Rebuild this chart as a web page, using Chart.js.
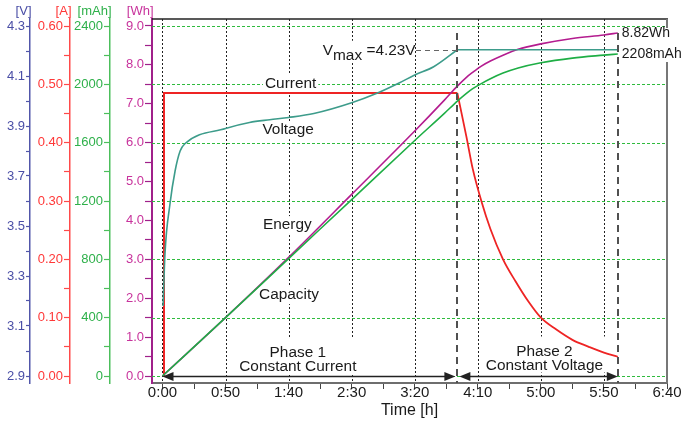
<!DOCTYPE html>
<html>
<head>
<meta charset="utf-8">
<title>Charging curve</title>
<script src="https://cdn.jsdelivr.net/npm/chart.js@4.4.1/dist/chart.umd.min.js"></script>
<style>
  html, body { margin: 0; padding: 0; background: #fff; }
  canvas { display: block; }
</style>
</head>
<body>
<canvas id="chargeChart" width="687" height="421"></canvas>
<script>
// Li-ion charging curve: constant current phase, then constant voltage phase.
// Times are in minutes on a linear x axis, labelled as h:mm.

// Current [A]
const ccCurrentTime = [1.2, 1.2, 233.8];
const ccCurrent = [0, 0.485, 0.485];
const cvCurrentTime = [233.8, 241, 246, 252.8, 260, 270, 280, 290, 300, 312, 325, 338, 350, 361];
const cvCurrent = [0.485, 0.41, 0.355, 0.30, 0.252, 0.20, 0.162, 0.128, 0.10, 0.08, 0.062, 0.05, 0.04, 0.033];

// Voltage [V]
const ccVoltageTime = [0.5, 2, 6, 10, 14, 18, 50, 69, 85, 100, 120, 150, 170, 188, 200, 215, 233.8];
const ccVoltage = [3.18, 3.39, 3.59, 3.72, 3.80, 3.83, 3.89, 3.914, 3.925, 3.934, 3.95, 3.993, 4.031, 4.073, 4.104, 4.137, 4.205];
const cvVoltageTime = [233.8, 361];
const cvVoltage = [4.205, 4.205];

// Energy [Wh] and capacity [mAh]
const energyTime = [0, 50, 100, 150, 200, 223.5, 233.8, 241, 246, 252.8, 260, 270, 282, 300, 325, 350, 361];
const energy = [0, 1.5, 3.05, 4.67, 6.3, 7.095, 7.455, 7.68, 7.81, 7.97, 8.10, 8.25, 8.40, 8.54, 8.68, 8.77, 8.82];
const capacityTime = [0, 50, 100, 150, 200, 223.5, 233.8, 241, 246, 252.8, 260, 270, 282, 300, 325, 350, 361];
const capacity = [0, 400, 805, 1210, 1615, 1801, 1885, 1938, 1970, 2005, 2038, 2077, 2112, 2148, 2180, 2200, 2208];

// phase boundaries (minutes) and the CV level
const phaseEnds = [233.8, 361];
const vmaxVolts = 4.205;

// axis ticks (labelled values; an unlabelled tick sits halfway between)
const xTickMinutes = [0, 50, 100, 150, 200, 250, 300, 350, 400];
const xTickLabels = ['0:00', '0:50', '1:40', '2:30', '3:20', '4:10', '5:00', '5:50', '6:40'];
const voltLabels = [2.9, 3.1, 3.3, 3.5, 3.7, 3.9, 4.1, 4.3];
const ampLabels = [0, 0.1, 0.2, 0.3, 0.4, 0.5, 0.6];
const mahLabels = [0, 400, 800, 1200, 1600, 2000, 2400];
const whLabels = [0, 1, 2, 3, 4, 5, 6, 7, 8, 9];

const FONT = '"Liberation Sans", Arial, Helvetica, sans-serif';
Chart.defaults.font.family = FONT;

const RED = '#ee2424';
const TEAL = '#3d9c8b';
const PURPLE = '#b41c8f';
const GREEN = '#1eae45';
const GRID_GREEN = '#2fbb3e';
const INK = '#1a1a1a';
const NOTE_FONT = '15.4px ' + FONT;

function withMinor(labels) {
  const out = [];
  labels.forEach((v, i) => {
    out.push(v);
    if (i < labels.length - 1) out.push((v + labels[i + 1]) / 2);
  });
  return out;
}

function pts(ts, vs) {
  return ts.map((t, i) => ({ x: t, y: vs[i] }));
}

function leftAxis(o) {
  return {
    type: 'linear', position: 'left', weight: o.weight,
    min: o.min, max: o.max, bounds: 'data',
    afterBuildTicks: s => { s.ticks = withMinor(o.labels).map(v => ({ value: v })); },
    afterFit: s => { s.width = o.width; },
    grid: { drawOnChartArea: false, color: o.line, tickLength: o.tick, tickWidth: 1.2 },
    border: { color: o.line, width: o.borderWidth || 1.5 },
    ticks: {
      color: o.color, padding: 1, autoSkip: false, font: { size: 13 },
      callback: v => o.labels.includes(v) ? o.fmt(v) : ''
    },
    title: { display: false }
  };
}

// text notes, placed in time / Wh units
const curveNotes = [
  { text: 'Current', t: 101.6, wh: 7.51 },
  { text: 'Voltage', t: 99.6, wh: 6.32 },
  { text: 'Energy', t: 99.0, wh: 3.88 },
  { text: 'Capacity', t: 100.3, wh: 2.08 }
];
const phaseNotes = [
  { lines: ['Phase 1', 'Constant Current'], t: 107.3, wh: [0.61, 0.25] },
  { lines: ['Phase 2', 'Constant Voltage'], t: 302.8, wh: [0.63, 0.27] }
];
const axisTitles = [
  { id: 'yV', text: '[V]', color: '#4a4ea6' },
  { id: 'yA', text: '[A]', color: '#ff3838' },
  { id: 'yMah', text: '[mAh]', color: '#2eb04a' },
  { id: 'yWh', text: '[Wh]', color: '#c8339c' }
];

function strokeLine(ctx, x1, y1, x2, y2) {
  ctx.beginPath();
  ctx.moveTo(x1, y1);
  ctx.lineTo(x2, y2);
  ctx.stroke();
}

function arrowHead(ctx, x, y, dir) {
  ctx.beginPath();
  ctx.moveTo(x, y);
  ctx.lineTo(x - dir * 11, y - 4.5);
  ctx.lineTo(x - dir * 11, y + 4.5);
  ctx.closePath();
  ctx.fill();
}

const chargeOverlay = {
  id: 'chargeOverlay',
  beforeDatasetsDraw(chart) {
    const { ctx, chartArea: a, scales } = chart;
    const xs = scales.x, yw = scales.yWh, ym = scales.yMah;
    ctx.save();

    // green dotted grid at the capacity labels
    ctx.strokeStyle = GRID_GREEN;
    ctx.lineWidth = 1;
    ctx.setLineDash([3, 2]);
    mahLabels.forEach(v => {
      const y = Math.round(ym.getPixelForValue(v)) + 0.5;
      strokeLine(ctx, a.left, y, a.right, y);
    });

    // black dotted verticals at the labelled times
    ctx.strokeStyle = '#222';
    ctx.setLineDash([2, 2]);
    xTickMinutes.filter(t => t < xs.max).forEach(t => {
      const x = Math.round(xs.getPixelForValue(t)) + 0.5;
      strokeLine(ctx, x, a.top, x, a.bottom);
    });
    ctx.setLineDash([]);

    // frame: top and right
    ctx.strokeStyle = '#222';
    ctx.lineWidth = 1.5;
    strokeLine(ctx, a.left, a.top, a.right + 1, a.top);
    ctx.strokeStyle = '#777';
    ctx.lineWidth = 2;
    strokeLine(ctx, a.right, a.top, a.right, a.bottom);

    // white backgrounds behind the notes
    ctx.fillStyle = '#fff';
    ctx.font = NOTE_FONT;
    curveNotes.forEach(n => {
      const w = ctx.measureText(n.text).width;
      const x = xs.getPixelForValue(n.t), y = yw.getPixelForValue(n.wh);
      ctx.fillRect(x - w / 2 - 2, y - 9, w + 4, 18);
    });
    phaseNotes.forEach(n => {
      const w = Math.max(...n.lines.map(s => ctx.measureText(s).width));
      const x = xs.getPixelForValue(n.t);
      const y1 = yw.getPixelForValue(n.wh[0]), y2 = yw.getPixelForValue(n.wh[1]);
      ctx.fillRect(x - w / 2 - 3, y1 - 15, w + 6, y2 - y1 + 22);
    });
    const vy = scales.yV.getPixelForValue(vmaxVolts);
    ctx.fillRect(xs.getPixelForValue(126), vy - 9, 93, 22);

    ctx.font = '14px ' + FONT;
    const ex = xs.getPixelForValue(phaseEnds[1]) + 3;
    const eTop = yw.getPixelForValue(energy[energy.length - 1]) - 5;
    const eBot = ym.getPixelForValue(capacity[capacity.length - 1]) + 8;
    ctx.fillRect(ex, eTop, ctx.measureText('2208mAh').width + 6, eBot - eTop);
    ctx.restore();
  },

  afterDatasetsDraw(chart) {
    const { ctx, chartArea: a, scales } = chart;
    const xs = scales.x, yw = scales.yWh, ym = scales.yMah, yv = scales.yV;
    ctx.save();

    // dashed phase boundaries
    ctx.strokeStyle = '#505050';
    ctx.lineWidth = 2;
    ctx.setLineDash([7, 5]);
    const dTop = yw.getPixelForValue(energy[energy.length - 1]);
    phaseEnds.forEach(t => {
      const x = Math.round(xs.getPixelForValue(t));
      strokeLine(ctx, x, dTop, x, a.bottom);
    });

    // Vmax leader
    const vy = Math.round(yv.getPixelForValue(vmaxVolts)) + 0.5;
    ctx.strokeStyle = '#666';
    ctx.lineWidth = 1.2;
    ctx.setLineDash([5, 4]);
    strokeLine(ctx, xs.getPixelForValue(201), vy, xs.getPixelForValue(phaseEnds[0]), vy);
    ctx.setLineDash([]);

    // phase arrows along the zero line
    const ay = Math.round(yw.getPixelForValue(0)) + 0.5;
    const x0 = xs.getPixelForValue(0);
    const x1 = xs.getPixelForValue(phaseEnds[0]);
    const x2 = xs.getPixelForValue(phaseEnds[1]);
    ctx.strokeStyle = '#222';
    ctx.fillStyle = '#222';
    ctx.lineWidth = 1.5;
    strokeLine(ctx, x0 + 4, ay, x1 - 6, ay);
    strokeLine(ctx, x1 + 6, ay, x2 - 4, ay);
    arrowHead(ctx, x0, ay, -1);
    arrowHead(ctx, x1 - 2, ay, 1);
    arrowHead(ctx, x1 + 2, ay, -1);
    arrowHead(ctx, x2, ay, 1);

    // notes
    ctx.fillStyle = INK;
    ctx.font = NOTE_FONT;
    ctx.textAlign = 'center';
    ctx.textBaseline = 'middle';
    curveNotes.forEach(n => {
      ctx.fillText(n.text, xs.getPixelForValue(n.t), yw.getPixelForValue(n.wh));
    });
    phaseNotes.forEach(n => {
      n.lines.forEach((s, i) => ctx.fillText(s, xs.getPixelForValue(n.t), yw.getPixelForValue(n.wh[i])));
    });

    // Vmax label with subscript
    ctx.textAlign = 'left';
    let lx = xs.getPixelForValue(127.1);
    ctx.fillText('V', lx, vy);
    lx += ctx.measureText('V').width;
    ctx.fillText('max', lx, vy + 5);
    lx += ctx.measureText('max').width;
    ctx.fillText(' =4.23V', lx, vy);

    // end values
    ctx.font = '14px ' + FONT;
    const ex = xs.getPixelForValue(phaseEnds[1]) + 4;
    ctx.fillText('8.82Wh', ex, yw.getPixelForValue(energy[energy.length - 1]));
    ctx.fillText('2208mAh', ex, ym.getPixelForValue(capacity[capacity.length - 1]));

    // unit titles above the left axes
    ctx.font = '13px ' + FONT;
    ctx.textAlign = 'right';
    axisTitles.forEach(t => {
      ctx.fillStyle = t.color;
      ctx.fillText(t.text, scales[t.id].right + 1.5, 11);
    });
    ctx.restore();
  }
};

const lineBase = { pointRadius: 0, pointHoverRadius: 0, fill: false };

new Chart(document.getElementById('chargeChart'), {
  type: 'line',
  data: {
    datasets: [
      { ...lineBase, data: pts(ccVoltageTime, ccVoltage), yAxisID: 'yV', borderColor: TEAL, borderWidth: 1.6, cubicInterpolationMode: 'monotone' },
      { ...lineBase, data: pts(cvVoltageTime, cvVoltage), yAxisID: 'yV', borderColor: TEAL, borderWidth: 1.6, tension: 0 },
      { ...lineBase, data: pts(capacityTime, capacity), yAxisID: 'yMah', borderColor: GREEN, borderWidth: 1.6, cubicInterpolationMode: 'monotone' },
      { ...lineBase, data: pts(energyTime, energy), yAxisID: 'yWh', borderColor: PURPLE, borderWidth: 1.6, cubicInterpolationMode: 'monotone' },
      { ...lineBase, data: pts(ccCurrentTime, ccCurrent), yAxisID: 'yA', borderColor: RED, borderWidth: 2, tension: 0 },
      { ...lineBase, data: pts(cvCurrentTime, cvCurrent), yAxisID: 'yA', borderColor: RED, borderWidth: 1.8, cubicInterpolationMode: 'monotone' }
    ]
  },
  options: {
    responsive: false,
    animation: false,
    devicePixelRatio: 1,
    events: [],
    layout: { padding: { top: 19, right: 20, left: 0, bottom: 0 } },
    plugins: { legend: { display: false }, tooltip: { enabled: false } },
    scales: {
      x: {
        type: 'linear', position: 'bottom', min: -8.3, max: 400, bounds: 'data',
        afterBuildTicks: s => { s.ticks = withMinor(xTickMinutes).map(v => ({ value: v })); },
        afterFit: s => { s.height = 38; },
        grid: { drawOnChartArea: false, color: '#444', tickLength: 6, tickWidth: 1 },
        border: { color: '#6e6e6e', width: 2 },
        ticks: {
          color: INK, padding: -5, autoSkip: false, maxRotation: 0, minRotation: 0, font: { size: 15 },
          callback: v => { const i = xTickMinutes.indexOf(v); return i < 0 ? '' : xTickLabels[i]; }
        },
        title: { display: true, text: 'Time [h]', color: INK, font: { size: 16 }, padding: { top: 0, bottom: 1 } }
      },
      yV: leftAxis({ weight: 4, width: 30, min: 2.872, max: 4.328, labels: voltLabels, fmt: v => v.toFixed(1),
        color: '#4a4ea6', line: '#5156aa', tick: 4 }),
      yA: leftAxis({ weight: 3, width: 40, min: -0.012, max: 0.612, labels: ampLabels, fmt: v => v.toFixed(2),
        color: '#ff3838', line: '#ff4a4a', tick: 6 }),
      yMah: leftAxis({ weight: 2, width: 40, min: -48, max: 2448, labels: mahLabels, fmt: v => String(v),
        color: '#2eb04a', line: '#4cbf5c', tick: 6 }),
      yWh: leftAxis({ weight: 1, width: 42, min: -0.18, max: 9.18, labels: whLabels, fmt: v => v.toFixed(1),
        color: '#c8339c', line: '#a0208a', tick: 7, borderWidth: 2 })
    }
  },
  plugins: [chargeOverlay]
});
</script>
</body>
</html>
